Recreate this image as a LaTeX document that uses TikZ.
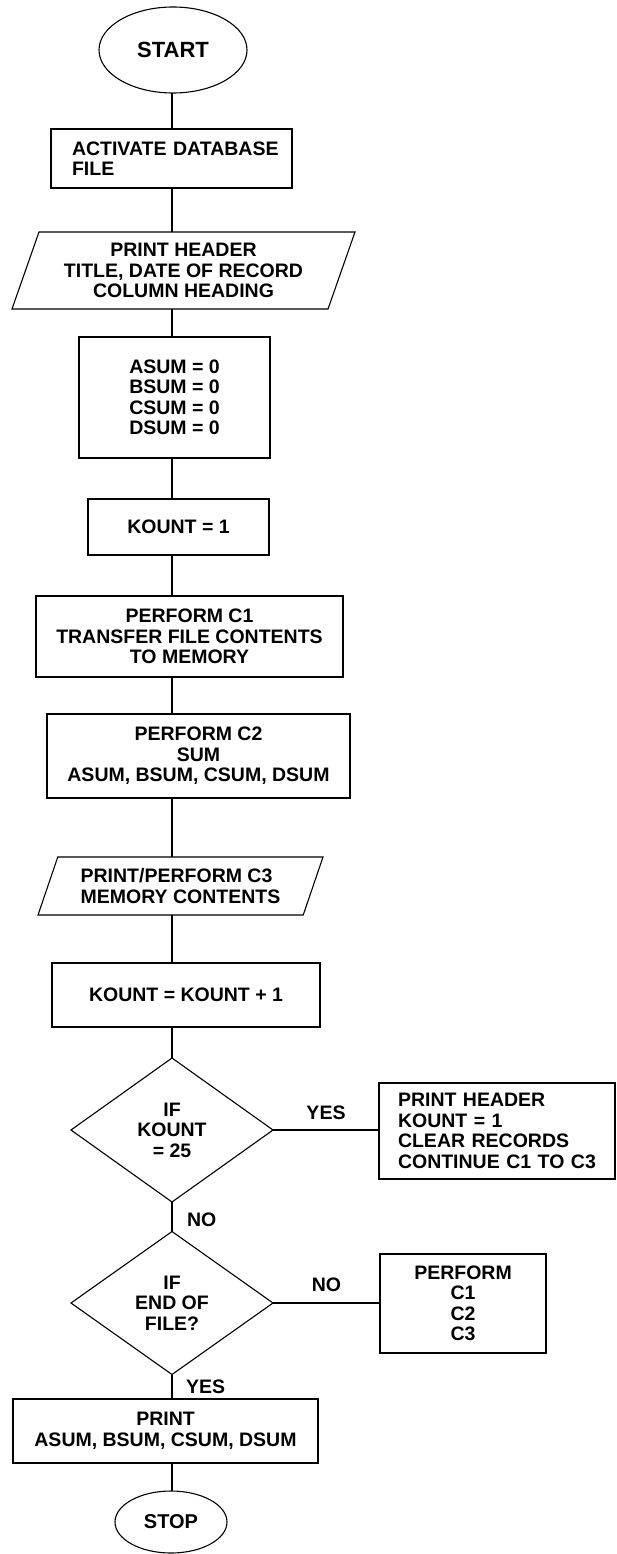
\documentclass[tikz,border=0pt]{standalone}
\usepackage{fontspec}
\setmainfont{Liberation Sans}
\usetikzlibrary{shapes.geometric}
\begin{document}
\begin{tikzpicture}[x=1pt,y=-1pt,
  every node/.style={font=\fontsize{19.5}{20.5}\selectfont\bfseries, inner sep=0pt, outer sep=0pt},
  box/.style={draw, line width=1.1pt, rectangle, align=center},
  term/.style={draw, line width=1.1pt, ellipse},
  io/.style={draw, line width=1.1pt, trapezium, trapezium stretches body, align=center},
  decision/.style={draw, line width=1.1pt, diamond, align=center},
  flow/.style={line width=1.1pt}]

\useasboundingbox (0,0) rectangle (617,1554);
\coordinate (ax) at (172,0);

\node[term, minimum width=148pt, minimum height=86pt, font=\fontsize{22}{24}\selectfont\bfseries] (start) at (173,50) {START};

\node[box, minimum width=241pt, minimum height=59pt, text width=199pt, align=left, inner xsep=21pt] (act) at (171.5,158.5) {\mbox{ACTIVATE DATABASE}\\FILE};

\node[io, trapezium left angle=63.7, trapezium right angle=116.3, minimum width=343pt, minimum height=77pt] (hdr) at (183.5,270.5) {PRINT HEADER\\TITLE, DATE OF RECORD\\COLUMN HEADING};

\node[box, minimum width=191pt, minimum height=121pt] (zero) at (174.5,397.5) {ASUM = 0\\BSUM = 0\\CSUM = 0\\DSUM = 0};

\node[box, minimum width=181pt, minimum height=56pt] (k1) at (178.5,527) {KOUNT = 1};

\node[box, minimum width=307pt, minimum height=81pt] (c1) at (189.5,636.5) {PERFORM C1\\TRANSFER FILE CONTENTS\\TO MEMORY};

\node[box, minimum width=303pt, minimum height=84pt] (c2) at (198.5,756) {PERFORM C2\\SUM\\ASUM, BSUM, CSUM, DSUM};

\node[io, align=left, trapezium left angle=60.4, trapezium right angle=119.6, minimum width=285pt, minimum height=58pt] (pp) at (180.5,886) {PRINT/PERFORM C3\\MEMORY CONTENTS};

\node[box, minimum width=268pt, minimum height=64pt] (kk) at (186,995) {KOUNT = KOUNT + 1};

\node[decision, minimum width=202pt, minimum height=144pt] (d1) at (172,1130) {IF\\KOUNT\\= 25};

\node[box, minimum width=236pt, minimum height=96pt, text width=198pt, align=left, inner xsep=19pt] (hdr2) at (497,1131) {PRINT HEADER\\KOUNT = 1\\CLEAR RECORDS\\\mbox{CONTINUE C1 TO C3}};

\node[decision, minimum width=202pt, minimum height=143pt] (d2) at (172,1303) {IF\\END OF\\FILE?};

\node[box, minimum width=166pt, minimum height=99pt] (perf) at (463,1303.5) {PERFORM\\C1\\C2\\C3};

\node[box, minimum width=305pt, minimum height=64pt] (fin) at (165.5,1431) {PRINT\\ASUM, BSUM, CSUM, DSUM};

\node[term, minimum width=112pt, minimum height=62pt, font=\fontsize{20}{22}\selectfont\bfseries] (stop) at (171,1522) {STOP};

\draw[flow] (ax |- start.south) -- (ax |- act.north);
\draw[flow] (ax |- act.south) -- (ax |- hdr.north);
\draw[flow] (ax |- hdr.south) -- (ax |- zero.north);
\draw[flow] (ax |- zero.south) -- (ax |- k1.north);
\draw[flow] (ax |- k1.south) -- (ax |- c1.north);
\draw[flow] (ax |- c1.south) -- (ax |- c2.north);
\draw[flow] (ax |- c2.south) -- (ax |- pp.north);
\draw[flow] (ax |- pp.south) -- (ax |- kk.north);
\draw[flow] (ax |- kk.south) -- (d1.north);
\draw[flow] (d1.east) -- node[above=10pt]{YES} (d1.east -| hdr2.west);
\draw[flow] (d1.south) -- node[pos=0.6, right=15pt]{NO} (d2.north);
\draw[flow] (d2.east) -- node[above=11pt]{NO} (d2.east -| perf.west);
\draw[flow] (d2.south) -- node[right=14pt]{YES} (ax |- fin.north);
\draw[flow] (ax |- fin.south) -- (ax |- stop.north);
\end{tikzpicture}
\end{document}
